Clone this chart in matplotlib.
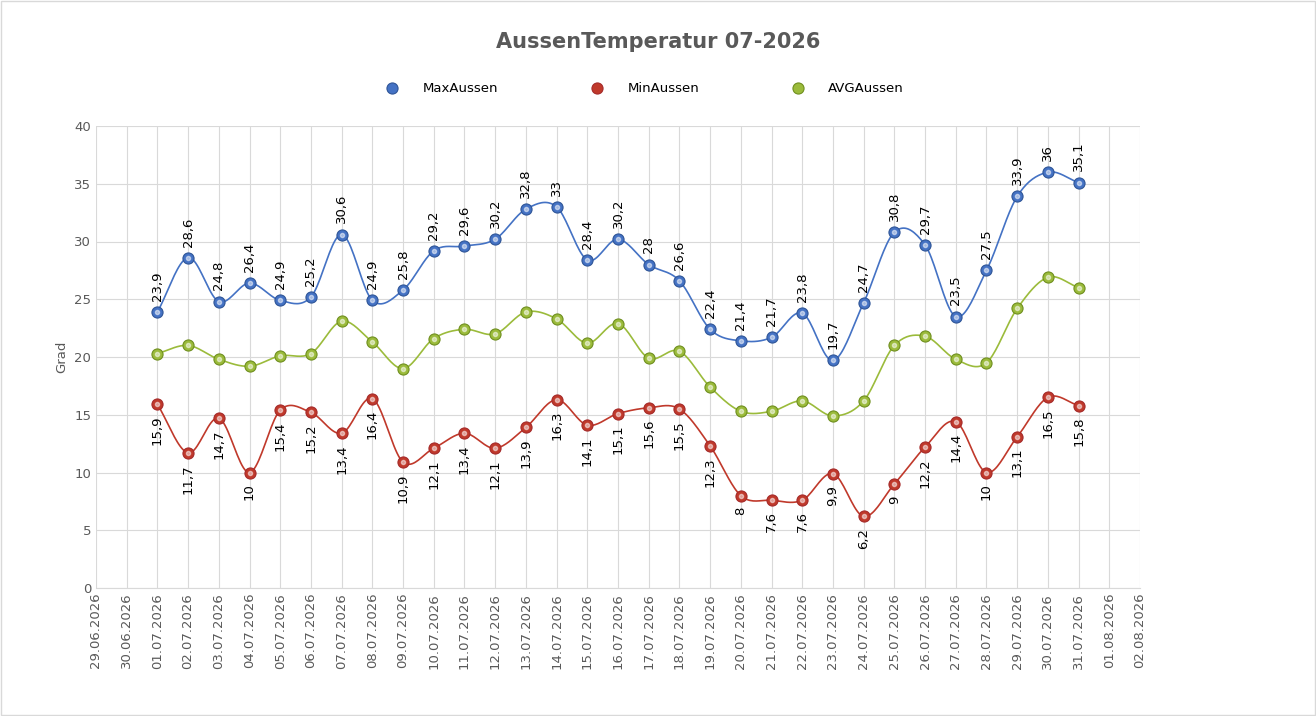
import numpy as np
import matplotlib.pyplot as plt
import matplotlib.dates as mdates
from datetime import date, timedelta

days = [date(2026, 7, d) for d in range(1, 32)]
max_aussen = [23.9, 28.6, 24.8, 26.4, 24.9, 25.2, 30.6, 24.9, 25.8, 29.2, 29.6, 30.2, 32.8, 33, 28.4, 30.2,
              28, 26.6, 22.4, 21.4, 21.7, 23.8, 19.7, 24.7, 30.8, 29.7, 23.5, 27.5, 33.9, 36, 35.1]
min_aussen = [15.9, 11.7, 14.7, 10, 15.4, 15.2, 13.4, 16.4, 10.9, 12.1, 13.4, 12.1, 13.9, 16.3, 14.1, 15.1,
              15.6, 15.5, 12.3, 8, 7.6, 7.6, 9.9, 6.2, 9, 12.2, 14.4, 10, 13.1, 16.5, 15.8]
avg_aussen = [20.3, 21, 19.8, 19.2, 20.1, 20.3, 23.1, 21.3, 19, 21.6, 22.4, 22, 23.9, 23.3, 21.2, 22.9,
              19.9, 20.5, 17.4, 15.3, 15.3, 16.2, 14.9, 16.2, 21, 21.8, 19.8, 19.5, 24.2, 26.9, 26]


def smooth(x, y, n=20):
    # Catmull-Rom spline through the points
    x = np.asarray(x, float); y = np.asarray(y, float)
    px = np.concatenate([[2*x[0]-x[1]], x, [2*x[-1]-x[-2]]])
    py = np.concatenate([[2*y[0]-y[1]], y, [2*y[-1]-y[-2]]])
    xs, ys = [], []
    t = np.linspace(0, 1, n, endpoint=False)
    for i in range(1, len(px)-2):
        for p, out in ((px, xs), (py, ys)):
            p0, p1, p2, p3 = p[i-1:i+3]
            out.extend(0.5*((2*p1) + (-p0+p2)*t + (2*p0-5*p1+4*p2-p3)*t**2 + (-p0+3*p1-3*p2+p3)*t**3))
    xs.append(x[-1]); ys.append(y[-1])
    return np.array(xs), np.array(ys)


fig = plt.figure(figsize=(13.16, 7.16), dpi=100)
ax = fig.add_axes([96/1316, 1-588/716, 1044/1316, 462/716])
xnum = mdates.date2num(days)

series = [("MaxAussen", max_aussen, "#4472c4", "#2f5597"),
          ("MinAussen", min_aussen, "#c0392b", "#a52a2a"),
          ("AVGAussen", avg_aussen, "#9bbb3b", "#6f8f1f")]
for name, vals, col, edge in series:
    sx, sy = smooth(xnum, vals)
    ax.plot(sx, sy, color=col, lw=1.2, zorder=2)
    ax.plot(xnum, vals, 'o', ms=8, color=col, mec=edge, mew=0.8, zorder=3, label=name)
    ax.plot(xnum, vals, 'o', ms=3, color='white', alpha=0.5, zorder=4)

for x, v in zip(xnum, max_aussen):
    ax.annotate(str(v).replace('.', ','), (x, v), xytext=(0, 8), textcoords='offset points',
                rotation=90, ha='center', va='bottom', fontsize=9.5)
for x, v in zip(xnum, min_aussen):
    ax.annotate(str(v).replace('.', ','), (x, v), xytext=(0, -8), textcoords='offset points',
                rotation=90, ha='center', va='top', fontsize=9.5)

start = date(2026, 6, 29)
ticks = [start + timedelta(days=i) for i in range(35)]
ax.set_xticks(mdates.date2num(ticks))
ax.set_xticklabels([t.strftime('%d.%m.%Y') for t in ticks], rotation=90, fontsize=9.5, color='#595959')
ax.set_xlim(mdates.date2num(ticks[0]), mdates.date2num(ticks[-1]))
ax.set_ylim(0, 40)
ax.set_yticks(range(0, 41, 5))
ax.tick_params(axis='y', labelsize=9.5, colors='#595959', length=0)
ax.tick_params(axis='x', length=0)
ax.grid(True, color='#d9d9d9', lw=0.8)
ax.set_axisbelow(True)
for s in ax.spines.values():
    s.set_visible(False)
ax.spines['bottom'].set_visible(True)
ax.spines['bottom'].set_color('#d9d9d9')
ax.set_ylabel('Grad', fontsize=9.5, color='#595959')
fig.text(0.5, 1-42/716, 'AussenTemperatur 07-2026', ha='center', va='center',
         fontsize=15, fontweight='bold', color='#595959')
fig.legend(loc='center', bbox_to_anchor=(0.485, 1-89/716), ncol=3, frameon=False,
           fontsize=9.5, columnspacing=6, handlelength=3)
fig.patches.append(plt.Rectangle((0.001, 0.001), 0.998, 0.998, transform=fig.transFigure,
                                 fill=False, ec='#d9d9d9', lw=1))
fig.savefig('out.png', dpi=100)
